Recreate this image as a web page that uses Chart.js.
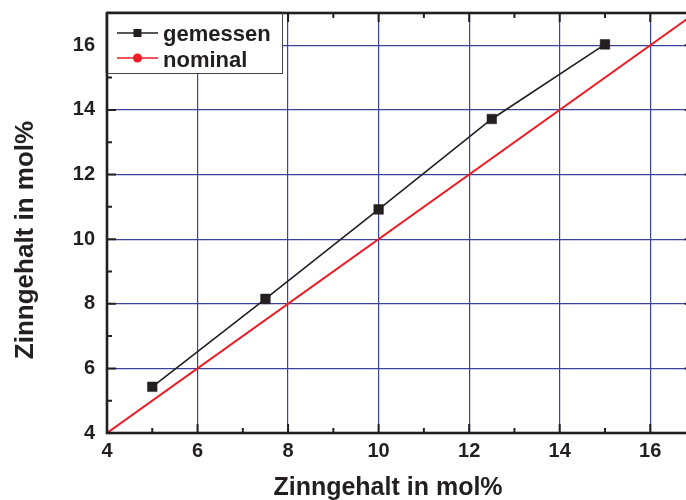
<!DOCTYPE html>
<html>
<head>
<meta charset="utf-8">
<script src="https://cdn.jsdelivr.net/npm/chart.js@4.4.0/dist/chart.umd.min.js"></script>
<style>
  html, body { margin: 0; padding: 0; background: #ffffff; overflow: hidden; }
  #wrap { width: 686px; height: 500px; overflow: hidden; position: relative; }
  canvas { display: block; max-width: none; }
</style>
</head>
<body>
<div id="wrap"><canvas id="c" width="701" height="500" style="width:701px;height:500px"></canvas></div>
<script>
// ---- data ----
const seriesLabels = ['gemessen', 'nominal'];
const gemessenX = [5, 7.5, 10, 12.5, 15];
const gemessenY = [5.43, 8.15, 10.92, 13.72, 16.03];
const nominalX = [4, 17];
const nominalY = [4, 17];
const xTickValues = [4, 6, 8, 10, 12, 14, 16];
const yTickValues = [4, 6, 8, 10, 12, 14, 16];
const xTitle = 'Zinngehalt in mol%';
const yTitle = 'Zinngehalt in mol%';

const INK = '#231f20';
const GRID = '#3b439c';
const RED = '#ed1c24';
const FONT = '"Liberation Sans", Arial, Helvetica, sans-serif';

function zeroPad(s) {
  s.paddingTop = 0; s.paddingBottom = 0; s.paddingLeft = 0; s.paddingRight = 0;
}

const framePlugin = {
  id: 'frame',
  afterDatasetsDraw(chart) {
    const ctx = chart.ctx;
    const a = chart.chartArea;
    const xs = chart.scales.x, ys = chart.scales.y;
    ctx.save();
    // tick marks (inward)
    ctx.strokeStyle = INK;
    ctx.lineWidth = 2;
    for (let v = Math.ceil(xs.min); v <= xs.max; v++) {
      const px = xs.getPixelForValue(v);
      const len = (v % 2 === 0) ? 9 : 5;
      ctx.beginPath();
      ctx.moveTo(px, a.bottom); ctx.lineTo(px, a.bottom - len);
      ctx.moveTo(px, a.top); ctx.lineTo(px, a.top + len);
      ctx.stroke();
    }
    for (let v = Math.ceil(ys.min); v <= ys.max; v++) {
      const py = ys.getPixelForValue(v);
      const len = (v % 2 === 0) ? 9 : 5;
      ctx.beginPath();
      ctx.moveTo(a.left, py); ctx.lineTo(a.left + len, py);
      ctx.moveTo(a.right, py); ctx.lineTo(a.right - len, py);
      ctx.stroke();
    }
    // frame
    ctx.lineWidth = 2.6;
    ctx.strokeRect(a.left, a.top, a.right - a.left, a.bottom - a.top);

    // legend
    const lx = a.left, ly = a.top, lw = 175, lh = 60;
    ctx.fillStyle = '#ffffff';
    ctx.fillRect(lx, ly, lw, lh);
    ctx.lineWidth = 1;
    ctx.strokeStyle = '#444444';
    ctx.strokeRect(lx + 0.5, ly + 0.5, lw, lh);
    ctx.lineWidth = 2.6;
    ctx.strokeStyle = INK;
    ctx.beginPath();
    ctx.moveTo(lx, ly); ctx.lineTo(lx, ly + lh);
    ctx.moveTo(lx, ly); ctx.lineTo(lx + lw, ly);
    ctx.stroke();

    const rows = [
      { label: chart.data.datasets[0].label, color: INK, marker: 'rect', y: ly + 20, base: ly + 28 },
      { label: chart.data.datasets[1].label, color: RED, marker: 'circle', y: ly + 45, base: ly + 54 }
    ];
    rows.forEach(r => {
      ctx.strokeStyle = r.color;
      ctx.fillStyle = r.color;
      ctx.lineWidth = 1.6;
      ctx.beginPath();
      ctx.moveTo(lx + 10, r.y); ctx.lineTo(lx + 51, r.y);
      ctx.stroke();
      const cx = lx + 30.5;
      if (r.marker === 'rect') {
        ctx.fillRect(cx - 4, r.y - 4, 8, 8);
      } else {
        ctx.beginPath(); ctx.arc(cx, r.y, 4.5, 0, Math.PI * 2); ctx.fill();
      }
      ctx.fillStyle = INK;
      ctx.font = 'bold 22px ' + FONT;
      ctx.textAlign = 'left';
      ctx.textBaseline = 'alphabetic';
      ctx.fillText(r.label, lx + 56, r.base);
    });

    // axis titles
    ctx.fillStyle = INK;
    ctx.font = 'bold 25px ' + FONT;
    ctx.textAlign = 'center';
    ctx.textBaseline = 'alphabetic';
    ctx.fillText(xTitle, 388, 495);
    ctx.save();
    ctx.translate(33, 240);
    ctx.rotate(-Math.PI / 2);
    ctx.font = 'bold 26px ' + FONT;
    ctx.fillText(yTitle, 0, 0);
    ctx.restore();
    ctx.restore();
  }
};

const tickFont = { family: FONT, size: 20, weight: 'bold' };

new Chart(document.getElementById('c'), {
  type: 'scatter',
  data: {
    datasets: [
      {
        label: seriesLabels[0],
        data: gemessenX.map((x, i) => ({ x: x, y: gemessenY[i] })),
        showLine: true,
        borderColor: INK,
        backgroundColor: INK,
        borderWidth: 1.6,
        pointStyle: 'rect',
        pointRadius: 6.8,
        pointBorderWidth: 0.5,
        order: 1
      },
      {
        label: seriesLabels[1],
        data: nominalX.map((x, i) => ({ x: x, y: nominalY[i] })),
        showLine: true,
        borderColor: RED,
        backgroundColor: RED,
        borderWidth: 2,
        pointRadius: 0,
        order: 2
      }
    ]
  },
  options: {
    responsive: false,
    animation: false,
    devicePixelRatio: 1,
    layout: { padding: { left: 0, right: 0, top: 13, bottom: 0 } },
    plugins: { legend: { display: false }, tooltip: { enabled: false } },
    scales: {
      x: {
        type: 'linear',
        min: 4,
        max: 16.96,
        afterBuildTicks: s => { s.ticks = xTickValues.map(v => ({ value: v })); },
        afterFit: s => { s.height = 67; zeroPad(s); },
        grid: { color: GRID, lineWidth: 1.2, drawTicks: false },
        border: { display: false },
        ticks: { color: INK, font: tickFont, padding: 6, maxRotation: 0 }
      },
      y: {
        type: 'linear',
        min: 4,
        max: 17,
        afterBuildTicks: s => { s.ticks = yTickValues.map(v => ({ value: v })); },
        afterFit: s => { s.width = 107; zeroPad(s); },
        grid: { color: GRID, lineWidth: 1.2, drawTicks: false },
        border: { display: false },
        ticks: { color: INK, font: tickFont, padding: 12 }
      }
    }
  },
  plugins: [framePlugin]
});
</script>
</body>
</html>
